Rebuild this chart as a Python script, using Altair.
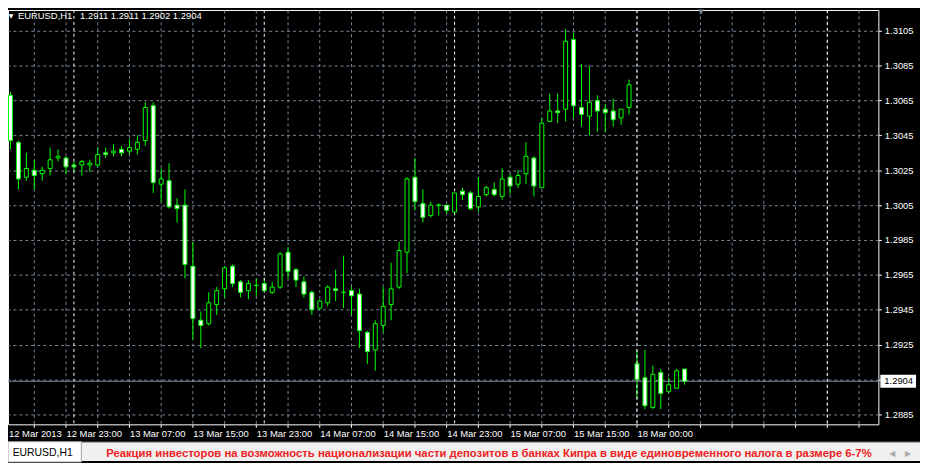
import altair as alt
import pandas as pd

symbol = "EURUSD,H1"
bars = list(range(87))
opens = [1.3038, 1.3068, 1.3041, 1.3021, 1.3025, 1.3023, 1.3026, 1.3032, 1.3032, 1.3028,
         1.3028, 1.3028, 1.3028, 1.3035, 1.3035, 1.3037, 1.3036, 1.3037, 1.3042, 1.3062,
         1.3017, 1.3019, 1.3005, 1.3005, 1.2970, 1.2939, 1.2937, 1.2948, 1.2957, 1.2970,
         1.2961, 1.2956, 1.2959, 1.2960, 1.2955, 1.2958, 1.2978, 1.2968, 1.2961, 1.2955,
         1.2946, 1.2949, 1.2957, 1.2955, 1.2956, 1.2954, 1.2932, 1.2922, 1.2936, 1.2948,
         1.2958, 1.2978, 1.3021, 1.3006, 1.2999, 1.3005, 1.3005, 1.3001, 1.3013, 1.3012,
         1.3004, 1.3011, 1.3014, 1.3010, 1.3021, 1.3017, 1.3023, 1.3032, 1.3015, 1.3053,
         1.3059, 1.3060, 1.3100, 1.3061, 1.3056, 1.3065, 1.3060, 1.3059, 1.3055, 1.3061,
         1.2914, 1.2906, 1.2889, 1.2909, 1.2898, 1.2900, 1.2911]
highs = [1.3073, 1.3070, 1.3042, 1.3035, 1.3031, 1.3027, 1.3038, 1.3037, 1.3033, 1.3030,
         1.3031, 1.3031, 1.3038, 1.3038, 1.3040, 1.3039, 1.3043, 1.3045, 1.3064, 1.3064,
         1.3026, 1.3029, 1.3009, 1.3014, 1.2984, 1.2944, 1.2955, 1.2958, 1.2970, 1.2971,
         1.2962, 1.2962, 1.2963, 1.2963, 1.2961, 1.2978, 1.2981, 1.2969, 1.2964, 1.2956,
         1.2951, 1.2959, 1.2968, 1.2976, 1.2958, 1.2957, 1.2933, 1.2939, 1.2958, 1.2972,
         1.2984, 1.3021, 1.3032, 1.3014, 1.3007, 1.3006, 1.3005, 1.3012, 1.3015, 1.3013,
         1.3021, 1.3016, 1.3018, 1.3026, 1.3023, 1.3025, 1.3041, 1.3033, 1.3055, 1.3069,
         1.3069, 1.3106, 1.3104, 1.3086, 1.3085, 1.3068, 1.3063, 1.3066, 1.3060, 1.3077,
         1.2922, 1.2922, 1.2913, 1.2911, 1.2906, 1.2911, 1.2911]
lows = [1.3037, 1.3037, 1.3014, 1.3019, 1.3014, 1.3019, 1.3022, 1.3030, 1.3023, 1.3024,
        1.3022, 1.3024, 1.3027, 1.3032, 1.3033, 1.3033, 1.3034, 1.3034, 1.3039, 1.3012,
        1.3007, 1.3003, 1.2995, 1.2963, 1.2928, 1.2923, 1.2936, 1.2942, 1.2952, 1.2958,
        1.2952, 1.2951, 1.2953, 1.2955, 1.2954, 1.2957, 1.2963, 1.2958, 1.2952, 1.2942,
        1.2945, 1.2947, 1.2950, 1.2946, 1.2942, 1.2923, 1.2914, 1.2910, 1.2932, 1.2939,
        1.2957, 1.2966, 1.3002, 1.2995, 1.2998, 1.2999, 1.3000, 1.2999, 1.3008, 1.3002,
        1.3001, 1.3010, 1.3010, 1.3008, 1.3011, 1.3015, 1.3017, 1.3010, 1.3015, 1.3053,
        1.3052, 1.3053, 1.3055, 1.3050, 1.3045, 1.3047, 1.3047, 1.3050, 1.3051, 1.3057,
        1.2894, 1.2888, 1.2888, 1.2888, 1.2898, 1.2900, 1.2902]
closes = [1.3067, 1.3042, 1.3020, 1.3026, 1.3022, 1.3025, 1.3031, 1.3033, 1.3027, 1.3027,
          1.3030, 1.3029, 1.3034, 1.3034, 1.3036, 1.3035, 1.3038, 1.3041, 1.3061, 1.3018,
          1.3020, 1.3004, 1.3003, 1.2971, 1.2940, 1.2936, 1.2949, 1.2956, 1.2969, 1.2960,
          1.2955, 1.2960, 1.2959, 1.2956, 1.2958, 1.2977, 1.2967, 1.2962, 1.2954, 1.2945,
          1.2950, 1.2958, 1.2956, 1.2955, 1.2953, 1.2933, 1.2921, 1.2937, 1.2947, 1.2957,
          1.2979, 1.3020, 1.3007, 1.2998, 1.3005, 1.3005, 1.3002, 1.3012, 1.3011, 1.3003,
          1.3010, 1.3015, 1.3011, 1.3020, 1.3016, 1.3022, 1.3033, 1.3016, 1.3052, 1.3059,
          1.3058, 1.3099, 1.3062, 1.3057, 1.3064, 1.3059, 1.3058, 1.3054, 1.3060, 1.3074,
          1.2905, 1.2890, 1.2908, 1.2897, 1.2902, 1.2910, 1.2904]

tick_bars = [0, 8, 16, 24, 32, 40, 48, 56, 64, 72, 80]
tick_labels = ["12 Mar 2013", "12 Mar 23:00", "13 Mar 07:00", "13 Mar 15:00",
               "13 Mar 23:00", "14 Mar 07:00", "14 Mar 15:00", "14 Mar 23:00",
               "15 Mar 07:00", "15 Mar 15:00", "18 Mar 00:00"]
separator_bars = [9, 33, 57, 80, 104]
price_ticks = [1.2885, 1.2905, 1.2925, 1.2945, 1.2965, 1.2985, 1.3005,
               1.3025, 1.3045, 1.3065, 1.3085, 1.3105]
headline = ("Реакция инвесторов на возможность национализации части депозитов "
            "в банках Кипра в виде единовременного налога в размере 6-7%")

df = pd.DataFrame({"bar": bars, "open": opens, "high": highs, "low": lows, "close": closes})

LIME = "#00ff00"
GRID = "#778899"
FONT = "Liberation Sans"
FS = 9.5
NB = "\u00a0"

X0 = 0.75
last_close = closes[-1]
title_str = (f"{symbol}{NB}{NB}{NB}{opens[-1]:.4f}{NB}{highs[-1]:.4f}{NB}"
             f"{lows[-1]:.4f}{NB}{closes[-1]:.4f}")

x_scale = alt.Scale(domain=[X0, 110.5], nice=False, zero=False, padding=0)
y_scale = alt.Scale(domain=[1.28793, 1.31169], nice=False, zero=False, padding=0)

x_axis = alt.Axis(values=list(range(4, 110, 4)), tickCount=100, labels=False, grid=True,
                  orient="bottom", tickSize=3, title=None)
y_axis = alt.Axis(orient="right", values=price_ticks, tickCount=100, grid=True, tickSize=3,
                  labelPadding=3, labelOverlap=False, labelFlush=False,
                  labelExpr=f"abs(datum.value - {last_close}) < 0.0005 ? '' : format(datum.value, '.4f')",
                  title=None)

base = alt.Chart(df)
wicks = base.mark_rule(color=LIME, strokeWidth=1, xOffset=0.5, clip=True).encode(
    x=alt.X("bar:Q", scale=x_scale, axis=x_axis),
    y=alt.Y("low:Q", scale=y_scale, axis=y_axis),
    y2="high:Q",
)
bodies = base.mark_bar(size=4, stroke=LIME, strokeWidth=1, xOffset=0.5, clip=True).encode(
    x="bar:Q",
    y="open:Q",
    y2="close:Q",
    fill=alt.condition("datum.close > datum.open", alt.value("black"), alt.value("white")),
)

sep = alt.Chart(pd.DataFrame({"bar": separator_bars})).mark_rule(
    color="white", strokeDash=[3, 3], xOffset=0.5, clip=True).encode(x="bar:Q")

cur = pd.DataFrame({"price": [last_close]})
price_line = alt.Chart(cur).mark_rule(color=GRID, strokeWidth=1).encode(y="price:Q")
price_box = alt.Chart(cur).mark_rect(color="white", yOffset=-6.5, y2Offset=6.5, clip=False).encode(
    x=alt.value(880), x2=alt.value(916), y="price:Q", y2=alt.Y2("price:Q"))
price_text = alt.Chart(cur).mark_text(align="left", baseline="middle", color="black",
                                      font=FONT, fontSize=FS, clip=False).encode(
    x=alt.value(884), y="price:Q", text=alt.Text("price:Q", format=".4f"))

time_df = pd.DataFrame({"bar": tick_bars, "label": tick_labels})
time_labels = alt.Chart(time_df).transform_calculate(
    lx=f"max(datum.bar, {X0})"
).mark_text(
    align="left", baseline="top", color="white", font=FONT, fontSize=FS, clip=False, dx=1).encode(
    x=alt.X("lx:Q"), y=alt.value(423), text="label:N")

title_txt = alt.Chart(pd.DataFrame({"t": [title_str]})).mark_text(
    align="left", baseline="middle", color="white", font=FONT, fontSize=FS).encode(
    x=alt.value(10), y=alt.value(6), text="t:N")
tri = alt.Chart(pd.DataFrame({"t": ["▼"]})).mark_text(
    align="center", baseline="middle", color="white", font="DejaVu Sans", fontSize=6).encode(
    x=alt.value(3), y=alt.value(6), text="t:N")
shift_tri = alt.Chart(pd.DataFrame({"t": ["▼"]})).mark_text(
    align="center", baseline="middle", color=GRID, font="DejaVu Sans", fontSize=7).encode(
    x=alt.value(699), y=alt.value(2), text="t:N")

status_bg = alt.Chart(pd.DataFrame({"k": [0]})).mark_rect(color="#f0f0f0", clip=False).encode(
    x=alt.value(0), x2=alt.value(920), y=alt.value(436), y2=alt.value(455))
status_line = alt.Chart(pd.DataFrame({"k": [0]})).mark_rule(color="#a0a0a0", clip=False).encode(
    x=alt.value(0), x2=alt.value(920), y=alt.value(436))
tab = alt.Chart(pd.DataFrame({"k": [0]})).mark_rect(fill="white", stroke="#a0a0a0", strokeWidth=1,
                                                   clip=False).encode(
    x=alt.value(0), x2=alt.value(74), y=alt.value(435.5), y2=alt.value(456))
tab_text = alt.Chart(pd.DataFrame({"t": [symbol]})).mark_text(
    align="center", baseline="middle", color="black", font=FONT, fontSize=10.5, clip=False).encode(
    x=alt.value(35), y=alt.value(447), text="t:N")
head_text = alt.Chart(pd.DataFrame({"t": [headline]})).mark_text(
    align="left", baseline="middle", color="#ee2222", font=FONT, fontSize=11.4, fontWeight="bold",
    clip=False).encode(x=alt.value(99), y=alt.value(448), text="t:N")
arrows = alt.Chart(pd.DataFrame({"t": ["◀", "▶"], "px": [892, 908]})).mark_text(
    align="center", baseline="middle", color="#a8a8a8", font="DejaVu Sans", fontSize=8,
    clip=False).encode(x=alt.X("px:Q", scale=None), y=alt.value(448), text="t:N")

chart = alt.layer(
    wicks, sep, price_line, bodies, price_box, price_text, time_labels, title_txt, tri, shift_tri,
    status_bg, status_line, tab, tab_text, head_text, arrows,
).properties(
    width=878, height=418,
    padding={"left": 0, "top": 0, "right": 42, "bottom": 37},
    autosize=alt.AutoSizeParams(type="none"),
    background="black",
).configure_view(
    stroke="white", strokeWidth=1, fill="black",
).configure_axis(
    labelFont=FONT, labelFontSize=FS, labelColor="white", tickColor="white",
    domain=False, gridColor=GRID, gridDash=[3, 3], gridWidth=1,
)

chart.save("out.html", embed_options={"renderer": "svg", "actions": False})
